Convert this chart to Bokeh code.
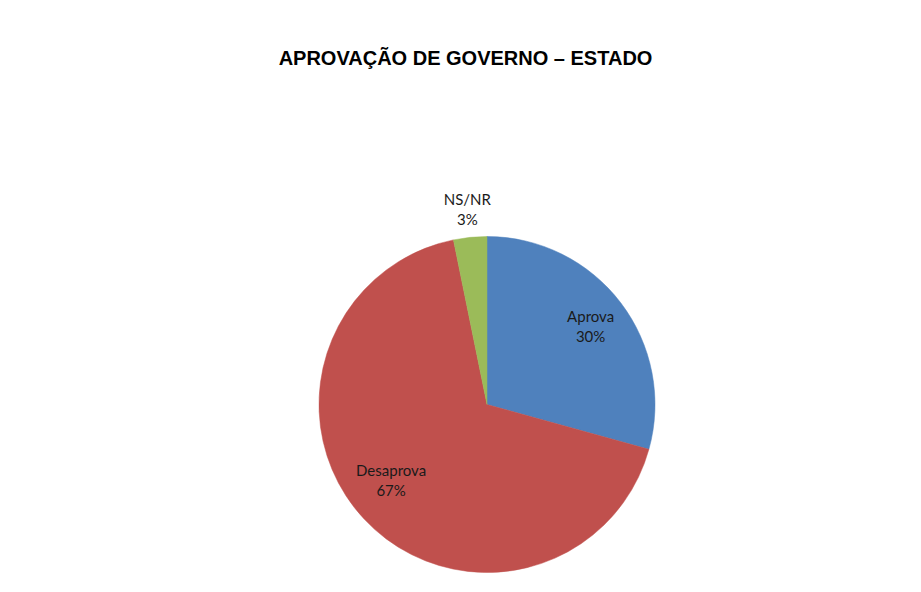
import math
from bokeh.plotting import figure
from bokeh.models import Range1d, ColumnDataSource
from bokeh.core.properties import value
from bokeh.embed import file_html
from bokeh.resources import INLINE

title_text = "APROVAÇÃO DE GOVERNO – ESTADO"
categories = ["Aprova", "Desaprova", "NS/NR"]
values = [29.3, 67.5, 3.2]
pct_labels = ["30%", "67%", "3%"]
colors = ["#4F81BD", "#C0504D", "#9BBB59"]
label_radius = [0.775, 0.726, 1.167]
label_frac = [0.5, 0.52, 0.5]

W, H = 905, 576
p = figure(width=W, height=H, output_backend="svg", toolbar_location=None,
           x_range=Range1d(0, W), y_range=Range1d(0, H), min_border=0)
p.axis.visible = False
p.grid.visible = False
p.outline_line_color = None
p.background_fill_color = "white"
p.border_fill_color = "white"

cx, cy, R = 486.5, 172.0, 168.0
total = sum(values)
starts, ends, lx, ly = [], [], [], []
acc = 0.0
for v, lr, lf in zip(values, label_radius, label_frac):
    a0 = math.pi / 2 - 2 * math.pi * acc / total
    a1 = math.pi / 2 - 2 * math.pi * (acc + v) / total
    starts.append(a0)
    ends.append(a1)
    mid = a0 + (a1 - a0) * lf
    lx.append(cx + lr * R * math.cos(mid))
    ly.append(cy + lr * R * math.sin(mid))
    acc += v

src = ColumnDataSource(dict(start=starts, end=ends, color=colors,
                            lx=lx, ly=ly, name=categories, pct=pct_labels))
p.wedge(x=cx, y=cy, radius=R, start_angle="start", end_angle="end",
        direction="clock", fill_color="color", line_color="color",
        line_width=0.5, source=src)

p.text(x="lx", y="ly", text="name", source=src, text_align="center",
       text_baseline="middle", y_offset=-10, text_font=value("Lato"),
       text_font_size="15px", text_color="#1a1a1a")
p.text(x="lx", y="ly", text="pct", source=src, text_align="center",
       text_baseline="middle", y_offset=10, text_font=value("Lato"),
       text_font_size="15px", text_color="#1a1a1a")

p.text(x=[465], y=[H - 57], text=[title_text], text_align="center",
       text_baseline="middle", text_font=value("Liberation Sans"),
       text_font_style="bold", text_font_size="20px", text_color="black")

open("out.html", "w").write(file_html(p, INLINE))
